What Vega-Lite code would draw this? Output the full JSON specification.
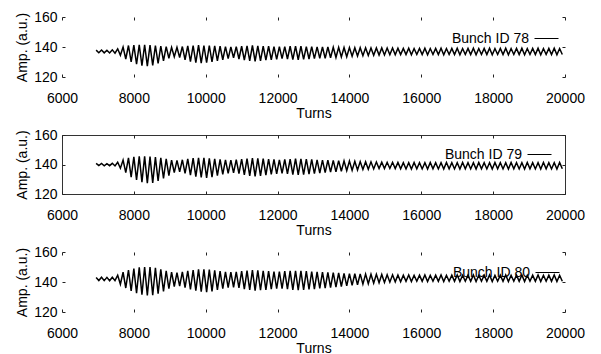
{
  "$schema": "https://vega.github.io/schema/vega-lite/v6.json",
  "background": "white",
  "padding": {"left": 15, "top": 10, "right": 5, "bottom": 0},
  "spacing": 7,
  "config": {
    "font": "Liberation Sans",
    "view": {"stroke": null},
    "axis": {"labelFontSize": 14, "titleFontSize": 14, "titleFontWeight": "normal", "labelColor": "black", "titleColor": "black", "grid": false, "domain": false, "tickColor": "#222", "tickSize": -3, "labelFlush": false, "labelOverlap": false},
    "axisX": {"labelPadding": 17, "titlePadding": 1},
    "axisY": {"labelPadding": 8, "titlePadding": 4},
    "legend": {"orient": "none", "symbolType": "stroke", "symbolSize": 576, "symbolStrokeWidth": 1, "labelAlign": "right", "labelOffset": -30, "labelFontSize": 14, "labelColor": "black", "padding": 0, "title": null}
  },
  "datasets": {
    "b78": [
      {"t":6950,"a":137.9},{"t":7025,"a":136.2},{"t":7100,"a":138.0},{"t":7175,"a":136.1},{"t":7250,"a":137.8},{"t":7325,"a":136.0},{"t":7400,"a":138.1},{"t":7475,"a":135.9},{"t":7550,"a":138.8},{"t":7625,"a":134.5},
      {"t":7700,"a":140.0},{"t":7775,"a":132.0},{"t":7850,"a":141.0},{"t":7925,"a":130.0},{"t":8000,"a":141.2},{"t":8075,"a":128.5},{"t":8150,"a":141.5},{"t":8225,"a":127.5},{"t":8300,"a":141.5},{"t":8375,"a":127.2},
      {"t":8450,"a":141.3},{"t":8525,"a":127.8},{"t":8600,"a":141.0},{"t":8675,"a":129.0},{"t":8750,"a":140.6},{"t":8825,"a":130.8},{"t":8900,"a":140.2},{"t":8975,"a":132.5},{"t":9050,"a":139.8},{"t":9125,"a":133.5},
      {"t":9200,"a":139.8},{"t":9275,"a":133.0},{"t":9350,"a":140.3},{"t":9425,"a":131.5},{"t":9500,"a":140.8},{"t":9575,"a":130.2},{"t":9650,"a":141.0},{"t":9725,"a":129.5},{"t":9800,"a":141.2},{"t":9875,"a":129.2},
      {"t":9950,"a":141.0},{"t":10025,"a":129.5},{"t":10100,"a":141.0},{"t":10175,"a":130.0},{"t":10250,"a":140.7},{"t":10325,"a":130.8},{"t":10400,"a":140.5},{"t":10475,"a":131.5},{"t":10550,"a":140.2},{"t":10625,"a":132.3},
      {"t":10700,"a":140.0},{"t":10775,"a":132.8},{"t":10850,"a":140.2},{"t":10925,"a":132.0},{"t":11000,"a":140.5},{"t":11075,"a":131.3},{"t":11150,"a":140.8},{"t":11225,"a":130.8},{"t":11300,"a":141.0},{"t":11375,"a":130.5},
      {"t":11450,"a":140.8},{"t":11525,"a":130.8},{"t":11600,"a":140.6},{"t":11675,"a":131.2},{"t":11750,"a":140.5},{"t":11825,"a":131.5},{"t":11900,"a":140.3},{"t":11975,"a":131.8},{"t":12050,"a":140.2},{"t":12125,"a":132.2},
      {"t":12200,"a":140.3},{"t":12275,"a":132.0},{"t":12350,"a":140.5},{"t":12425,"a":131.6},{"t":12500,"a":140.6},{"t":12575,"a":131.5},{"t":12650,"a":140.5},{"t":12725,"a":131.7},{"t":12800,"a":140.3},{"t":12875,"a":132.0},
      {"t":12950,"a":140.2},{"t":13025,"a":132.3},{"t":13100,"a":140.1},{"t":13175,"a":132.5},{"t":13250,"a":140.0},{"t":13325,"a":132.4},{"t":13400,"a":140.0},{"t":13475,"a":132.8},{"t":13550,"a":139.8},{"t":13625,"a":133.0},
      {"t":13700,"a":139.8},{"t":13775,"a":133.3},{"t":13850,"a":139.7},{"t":13925,"a":133.5},{"t":14000,"a":139.6},{"t":14075,"a":133.8},{"t":14150,"a":139.5},{"t":14225,"a":134.0},{"t":14300,"a":139.5},{"t":14375,"a":134.2},
      {"t":14450,"a":139.5},{"t":14525,"a":134.3},{"t":14600,"a":139.4},{"t":14675,"a":134.5},{"t":14750,"a":139.4},{"t":14825,"a":134.6},{"t":14900,"a":139.4},{"t":14975,"a":134.7},{"t":15050,"a":139.3},{"t":15125,"a":134.8},
      {"t":15200,"a":139.3},{"t":15275,"a":134.8},{"t":15350,"a":139.2},{"t":15425,"a":134.9},{"t":15500,"a":139.1},{"t":15575,"a":134.9},{"t":15650,"a":139.2},{"t":15725,"a":134.8},{"t":15800,"a":139.0},{"t":15875,"a":135.0},
      {"t":15950,"a":139.1},{"t":16025,"a":134.9},{"t":16100,"a":139.2},{"t":16175,"a":134.8},{"t":16250,"a":139.0},{"t":16325,"a":135.0},{"t":16400,"a":139.1},{"t":16475,"a":134.9},{"t":16550,"a":139.2},{"t":16625,"a":134.8},
      {"t":16700,"a":139.0},{"t":16775,"a":135.0},{"t":16850,"a":139.1},{"t":16925,"a":134.9},{"t":17000,"a":139.2},{"t":17075,"a":134.8},{"t":17150,"a":139.0},{"t":17225,"a":135.0},{"t":17300,"a":139.1},{"t":17375,"a":134.9},
      {"t":17450,"a":139.2},{"t":17525,"a":134.8},{"t":17600,"a":139.0},{"t":17675,"a":135.0},{"t":17750,"a":139.1},{"t":17825,"a":134.9},{"t":17900,"a":139.2},{"t":17975,"a":134.8},{"t":18050,"a":139.0},{"t":18125,"a":135.0},
      {"t":18200,"a":139.1},{"t":18275,"a":134.9},{"t":18350,"a":139.2},{"t":18425,"a":134.8},{"t":18500,"a":139.0},{"t":18575,"a":135.0},{"t":18650,"a":139.1},{"t":18725,"a":134.9},{"t":18800,"a":139.2},{"t":18875,"a":134.8},
      {"t":18950,"a":139.0},{"t":19025,"a":135.0},{"t":19100,"a":139.1},{"t":19175,"a":134.9},{"t":19250,"a":139.2},{"t":19325,"a":134.8},{"t":19400,"a":139.0},{"t":19475,"a":135.0},{"t":19550,"a":139.1},{"t":19625,"a":134.9},
      {"t":19700,"a":139.2},{"t":19775,"a":134.8},{"t":19850,"a":139.0},{"t":19925,"a":135.0}
    ],
    "b79": [
      {"t":6950,"a":140.8},{"t":7025,"a":139.3},{"t":7100,"a":140.7},{"t":7175,"a":139.1},{"t":7250,"a":140.6},{"t":7325,"a":139.2},{"t":7400,"a":140.8},{"t":7475,"a":139.0},{"t":7550,"a":141.5},{"t":7625,"a":137.5},
      {"t":7700,"a":143.0},{"t":7775,"a":134.5},{"t":7850,"a":144.5},{"t":7925,"a":131.5},{"t":8000,"a":145.2},{"t":8075,"a":129.5},{"t":8150,"a":145.5},{"t":8225,"a":128.0},{"t":8300,"a":145.5},{"t":8375,"a":127.3},
      {"t":8450,"a":145.3},{"t":8525,"a":127.5},{"t":8600,"a":145.0},{"t":8675,"a":128.8},{"t":8750,"a":144.5},{"t":8825,"a":130.5},{"t":8900,"a":143.8},{"t":8975,"a":132.5},{"t":9050,"a":143.0},{"t":9125,"a":134.5},
      {"t":9200,"a":142.8},{"t":9275,"a":135.0},{"t":9350,"a":143.2},{"t":9425,"a":134.0},{"t":9500,"a":143.8},{"t":9575,"a":132.8},{"t":9650,"a":144.3},{"t":9725,"a":131.8},{"t":9800,"a":144.5},{"t":9875,"a":131.2},
      {"t":9950,"a":144.5},{"t":10025,"a":131.0},{"t":10100,"a":144.2},{"t":10175,"a":131.5},{"t":10250,"a":143.8},{"t":10325,"a":132.5},{"t":10400,"a":143.5},{"t":10475,"a":133.3},{"t":10550,"a":143.2},{"t":10625,"a":134.0},
      {"t":10700,"a":143.0},{"t":10775,"a":134.3},{"t":10850,"a":143.3},{"t":10925,"a":133.8},{"t":11000,"a":143.6},{"t":11075,"a":133.0},{"t":11150,"a":144.0},{"t":11225,"a":132.3},{"t":11300,"a":144.3},{"t":11375,"a":132.0},
      {"t":11450,"a":144.2},{"t":11525,"a":132.2},{"t":11600,"a":144.0},{"t":11675,"a":132.8},{"t":11750,"a":143.7},{"t":11825,"a":133.3},{"t":11900,"a":143.4},{"t":11975,"a":133.7},{"t":12050,"a":143.2},{"t":12125,"a":134.0},
      {"t":12200,"a":143.4},{"t":12275,"a":133.6},{"t":12350,"a":143.7},{"t":12425,"a":133.2},{"t":12500,"a":143.9},{"t":12575,"a":133.0},{"t":12650,"a":143.8},{"t":12725,"a":133.2},{"t":12800,"a":143.6},{"t":12875,"a":133.5},
      {"t":12950,"a":143.4},{"t":13025,"a":133.8},{"t":13100,"a":143.2},{"t":13175,"a":134.2},{"t":13250,"a":143.0},{"t":13325,"a":134.5},{"t":13400,"a":142.9},{"t":13475,"a":134.8},{"t":13550,"a":142.8},{"t":13625,"a":135.0},
      {"t":13700,"a":142.6},{"t":13775,"a":135.4},{"t":13850,"a":142.5},{"t":13925,"a":135.8},{"t":14000,"a":142.3},{"t":14075,"a":136.0},{"t":14150,"a":142.2},{"t":14225,"a":136.3},{"t":14300,"a":142.0},{"t":14375,"a":136.6},
      {"t":14450,"a":141.9},{"t":14525,"a":136.8},{"t":14600,"a":141.8},{"t":14675,"a":137.0},{"t":14750,"a":141.7},{"t":14825,"a":137.2},{"t":14900,"a":141.6},{"t":14975,"a":137.3},{"t":15050,"a":141.5},{"t":15125,"a":137.3},
      {"t":15200,"a":141.5},{"t":15275,"a":137.2},{"t":15350,"a":141.4},{"t":15425,"a":137.1},{"t":15500,"a":141.3},{"t":15575,"a":137.0},{"t":15650,"a":141.2},{"t":15725,"a":136.9},{"t":15800,"a":141.4},{"t":15875,"a":137.1},
      {"t":15950,"a":141.3},{"t":16025,"a":137.0},{"t":16100,"a":141.2},{"t":16175,"a":136.9},{"t":16250,"a":141.4},{"t":16325,"a":137.1},{"t":16400,"a":141.3},{"t":16475,"a":137.0},{"t":16550,"a":141.2},{"t":16625,"a":136.9},
      {"t":16700,"a":141.4},{"t":16775,"a":137.1},{"t":16850,"a":141.3},{"t":16925,"a":137.0},{"t":17000,"a":141.2},{"t":17075,"a":136.9},{"t":17150,"a":141.4},{"t":17225,"a":137.1},{"t":17300,"a":141.3},{"t":17375,"a":137.0},
      {"t":17450,"a":141.2},{"t":17525,"a":136.9},{"t":17600,"a":141.4},{"t":17675,"a":137.1},{"t":17750,"a":141.3},{"t":17825,"a":137.0},{"t":17900,"a":141.2},{"t":17975,"a":136.9},{"t":18050,"a":141.4},{"t":18125,"a":137.1},
      {"t":18200,"a":141.3},{"t":18275,"a":137.0},{"t":18350,"a":141.2},{"t":18425,"a":136.9},{"t":18500,"a":141.4},{"t":18575,"a":137.1},{"t":18650,"a":141.3},{"t":18725,"a":137.0},{"t":18800,"a":141.2},{"t":18875,"a":136.9},
      {"t":18950,"a":141.4},{"t":19025,"a":137.1},{"t":19100,"a":141.3},{"t":19175,"a":137.0},{"t":19250,"a":141.2},{"t":19325,"a":136.9},{"t":19400,"a":141.4},{"t":19475,"a":137.1},{"t":19550,"a":141.3},{"t":19625,"a":137.0},
      {"t":19700,"a":141.2},{"t":19775,"a":136.9},{"t":19850,"a":141.4},{"t":19925,"a":137.1}
    ],
    "b80": [
      {"t":6950,"a":143.0},{"t":7025,"a":141.0},{"t":7100,"a":143.2},{"t":7175,"a":140.9},{"t":7250,"a":143.1},{"t":7325,"a":140.8},{"t":7400,"a":143.2},{"t":7475,"a":140.9},{"t":7550,"a":144.5},{"t":7625,"a":138.5},
      {"t":7700,"a":146.5},{"t":7775,"a":136.0},{"t":7850,"a":148.0},{"t":7925,"a":134.0},{"t":8000,"a":149.0},{"t":8075,"a":132.5},{"t":8150,"a":149.8},{"t":8225,"a":131.5},{"t":8300,"a":150.0},{"t":8375,"a":131.0},
      {"t":8450,"a":150.0},{"t":8525,"a":131.2},{"t":8600,"a":149.5},{"t":8675,"a":132.2},{"t":8750,"a":148.5},{"t":8825,"a":133.8},{"t":8900,"a":147.5},{"t":8975,"a":135.5},{"t":9050,"a":146.6},{"t":9125,"a":137.0},
      {"t":9200,"a":146.3},{"t":9275,"a":137.3},{"t":9350,"a":146.8},{"t":9425,"a":136.2},{"t":9500,"a":147.5},{"t":9575,"a":135.0},{"t":9650,"a":148.0},{"t":9725,"a":134.2},{"t":9800,"a":148.5},{"t":9875,"a":133.6},
      {"t":9950,"a":148.5},{"t":10025,"a":133.3},{"t":10100,"a":148.2},{"t":10175,"a":133.8},{"t":10250,"a":147.7},{"t":10325,"a":134.7},{"t":10400,"a":147.2},{"t":10475,"a":135.5},{"t":10550,"a":146.8},{"t":10625,"a":136.2},
      {"t":10700,"a":146.6},{"t":10775,"a":136.5},{"t":10850,"a":146.8},{"t":10925,"a":136.0},{"t":11000,"a":147.2},{"t":11075,"a":135.3},{"t":11150,"a":147.6},{"t":11225,"a":134.7},{"t":11300,"a":147.9},{"t":11375,"a":134.3},
      {"t":11450,"a":147.8},{"t":11525,"a":134.5},{"t":11600,"a":147.5},{"t":11675,"a":134.8},{"t":11750,"a":147.2},{"t":11825,"a":135.2},{"t":11900,"a":147.0},{"t":11975,"a":135.5},{"t":12050,"a":147.0},{"t":12125,"a":135.6},
      {"t":12200,"a":147.2},{"t":12275,"a":135.2},{"t":12350,"a":147.4},{"t":12425,"a":134.8},{"t":12500,"a":147.5},{"t":12575,"a":134.6},{"t":12650,"a":147.4},{"t":12725,"a":134.8},{"t":12800,"a":147.2},{"t":12875,"a":135.0},
      {"t":12950,"a":147.0},{"t":13025,"a":135.3},{"t":13100,"a":146.8},{"t":13175,"a":135.7},{"t":13250,"a":146.6},{"t":13325,"a":136.0},{"t":13400,"a":146.4},{"t":13475,"a":136.3},{"t":13550,"a":146.2},{"t":13625,"a":136.6},
      {"t":13700,"a":146.0},{"t":13775,"a":137.0},{"t":13850,"a":145.8},{"t":13925,"a":137.4},{"t":14000,"a":145.6},{"t":14075,"a":137.8},{"t":14150,"a":145.5},{"t":14225,"a":138.2},{"t":14300,"a":145.4},{"t":14375,"a":138.6},
      {"t":14450,"a":145.3},{"t":14525,"a":138.9},{"t":14600,"a":145.2},{"t":14675,"a":139.2},{"t":14750,"a":145.1},{"t":14825,"a":139.5},{"t":14900,"a":145.0},{"t":14975,"a":139.7},{"t":15050,"a":144.9},{"t":15125,"a":139.9},
      {"t":15200,"a":144.8},{"t":15275,"a":140.1},{"t":15350,"a":144.7},{"t":15425,"a":140.2},{"t":15500,"a":144.6},{"t":15575,"a":140.4},{"t":15650,"a":144.7},{"t":15725,"a":140.3},{"t":15800,"a":144.5},{"t":15875,"a":140.5},
      {"t":15950,"a":144.6},{"t":16025,"a":140.4},{"t":16100,"a":144.7},{"t":16175,"a":140.3},{"t":16250,"a":144.5},{"t":16325,"a":140.5},{"t":16400,"a":144.6},{"t":16475,"a":140.4},{"t":16550,"a":144.7},{"t":16625,"a":140.3},
      {"t":16700,"a":144.5},{"t":16775,"a":140.5},{"t":16850,"a":144.6},{"t":16925,"a":140.4},{"t":17000,"a":144.7},{"t":17075,"a":140.3},{"t":17150,"a":144.5},{"t":17225,"a":140.5},{"t":17300,"a":144.6},{"t":17375,"a":140.4},
      {"t":17450,"a":144.7},{"t":17525,"a":140.3},{"t":17600,"a":144.5},{"t":17675,"a":140.5},{"t":17750,"a":144.6},{"t":17825,"a":140.4},{"t":17900,"a":144.7},{"t":17975,"a":140.3},{"t":18050,"a":144.5},{"t":18125,"a":140.5},
      {"t":18200,"a":144.6},{"t":18275,"a":140.4},{"t":18350,"a":144.7},{"t":18425,"a":140.3},{"t":18500,"a":144.5},{"t":18575,"a":140.5},{"t":18650,"a":144.6},{"t":18725,"a":140.4},{"t":18800,"a":144.7},{"t":18875,"a":140.3},
      {"t":18950,"a":144.5},{"t":19025,"a":140.5},{"t":19100,"a":144.6},{"t":19175,"a":140.4},{"t":19250,"a":144.7},{"t":19325,"a":140.3},{"t":19400,"a":144.5},{"t":19475,"a":140.5},{"t":19550,"a":144.6},{"t":19625,"a":140.4},
      {"t":19700,"a":144.7},{"t":19775,"a":140.3},{"t":19850,"a":144.5},{"t":19925,"a":140.5}
    ]
  },
  "vconcat": [
    {
      "width": 503, "height": 60,
      "data": {"name": "b78"},
      "layer": [
        {"mark": {"type": "line", "strokeWidth": 1.5},
         "encoding": {
           "x": {"field": "t", "type": "quantitative", "scale": {"domain": [6000, 20000], "nice": false}, "axis": {"orient": "bottom", "values": [6000, 8000, 10000, 12000, 14000, 16000, 18000, 20000], "format": "d", "title": "Turns"}},
           "y": {"field": "a", "type": "quantitative", "scale": {"domain": [120, 160], "nice": false, "zero": false}, "axis": {"orient": "left", "values": [120, 140, 160], "title": "Amp. (a.u.)"}},
           "color": {"datum": "Bunch ID 78", "scale": {"range": ["black"]}, "legend": {"legendX": 472, "legendY": 9}}
         }},
        {"mark": {"type": "line", "strokeOpacity": 0},
         "encoding": {
           "x": {"field": "t", "type": "quantitative", "axis": {"orient": "top", "values": [6000, 8000, 10000, 12000, 14000, 16000, 18000, 20000], "labels": false, "title": null}},
           "y": {"field": "a", "type": "quantitative", "axis": {"orient": "right", "values": [120, 140, 160], "labels": false, "title": null}}
         }}
      ],
      "resolve": {"axis": {"x": "independent", "y": "independent"}}
    },
    {
      "width": 503, "height": 59,
      "view": {"stroke": "#333", "strokeWidth": 1},
      "data": {"name": "b79"},
      "layer": [
        {"mark": {"type": "line", "strokeWidth": 1.5},
         "encoding": {
           "x": {"field": "t", "type": "quantitative", "scale": {"domain": [6000, 20000], "nice": false}, "axis": {"orient": "bottom", "values": [6000, 8000, 10000, 12000, 14000, 16000, 18000, 20000], "format": "d", "title": "Turns"}},
           "y": {"field": "a", "type": "quantitative", "scale": {"domain": [120, 160], "nice": false, "zero": false}, "axis": {"orient": "left", "values": [120, 140, 160], "title": "Amp. (a.u.)"}},
           "color": {"datum": "Bunch ID 79", "scale": {"range": ["black"]}, "legend": {"legendX": 465, "legendY": 7}}
         }},
        {"mark": {"type": "line", "strokeOpacity": 0},
         "encoding": {
           "x": {"field": "t", "type": "quantitative", "axis": {"orient": "top", "values": [6000, 8000, 10000, 12000, 14000, 16000, 18000, 20000], "labels": false, "title": null}},
           "y": {"field": "a", "type": "quantitative", "axis": {"orient": "right", "values": [120, 140, 160], "labels": false, "title": null}}
         }}
      ],
      "resolve": {"axis": {"x": "independent", "y": "independent"}}
    },
    {
      "width": 503, "height": 60,
      "data": {"name": "b80"},
      "layer": [
        {"mark": {"type": "line", "strokeWidth": 1.5},
         "encoding": {
           "x": {"field": "t", "type": "quantitative", "scale": {"domain": [6000, 20000], "nice": false}, "axis": {"orient": "bottom", "values": [6000, 8000, 10000, 12000, 14000, 16000, 18000, 20000], "format": "d", "title": "Turns"}},
           "y": {"field": "a", "type": "quantitative", "scale": {"domain": [120, 160], "nice": false, "zero": false}, "axis": {"orient": "left", "values": [120, 140, 160], "title": "Amp. (a.u.)"}},
           "color": {"datum": "Bunch ID 80", "scale": {"range": ["black"]}, "legend": {"legendX": 473, "legendY": 8}}
         }},
        {"mark": {"type": "line", "strokeOpacity": 0},
         "encoding": {
           "x": {"field": "t", "type": "quantitative", "axis": {"orient": "top", "values": [6000, 8000, 10000, 12000, 14000, 16000, 18000, 20000], "labels": false, "title": null}},
           "y": {"field": "a", "type": "quantitative", "axis": {"orient": "right", "values": [120, 140, 160], "labels": false, "title": null}}
         }}
      ],
      "resolve": {"axis": {"x": "independent", "y": "independent"}}
    }
  ],
  "resolve": {"scale": {"color": "independent"}, "legend": {"color": "independent"}}
}
